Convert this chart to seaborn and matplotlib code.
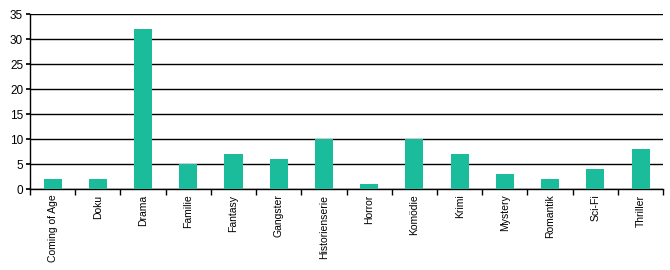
import matplotlib
matplotlib.use("Agg")
import matplotlib.pyplot as plt
import seaborn as sns
import numpy as np
import pandas as pd

categories = ["Coming of Age", "Doku", "Drama", "Familie", "Fantasy", "Gangster",
              "Historienserie", "Horror", "Komödie", "Krimi", "Mystery", "Romantik",
              "Sci-Fi", "Thriller"]
values = [2, 2, 32, 5, 7, 6, 10, 1, 10, 7, 3, 2, 4, 8]
yticks = [0, 5, 10, 15, 20, 25, 30, 35]

sns.set_theme(style="white")
plt.rcParams['font.family'] = ['Liberation Sans', 'DejaVu Sans']

df = pd.DataFrame({"cat": categories, "val": values})
fig = plt.figure(figsize=(6.7, 2.7), dpi=100)
ax = fig.add_axes([0.0448, 0.3, 0.945, 0.648])
sns.barplot(data=df, x="cat", y="val", color="#1ABC9C", saturation=1, width=0.4,
            linewidth=0, ax=ax, zorder=3)

ax.set_xlim(-0.5, len(categories) - 0.5)
ax.set_ylim(0, 35)
ax.set_yticks(yticks)
ax.yaxis.grid(True, color="black", linewidth=1, zorder=0)
ax.set_axisbelow(True)
ax.set_xlabel("")
ax.set_ylabel("")
for s in ["top", "right"]:
    ax.spines[s].set_visible(False)
for s in ["left", "bottom"]:
    ax.spines[s].set_color("black")
    ax.spines[s].set_linewidth(1)
ax.tick_params(axis="y", labelsize=8.5, length=3, color="black", left=True, pad=2, labelcolor="black")
ax.tick_params(axis="x", which="major", labelsize=7.5, length=0, rotation=90, pad=4, labelcolor="black")
ax.set_xticks(np.arange(-0.5, len(categories)), minor=True)
ax.tick_params(axis="x", which="minor", length=4, color="black", bottom=True, direction="out")

fig.savefig("out.png", dpi=100)
